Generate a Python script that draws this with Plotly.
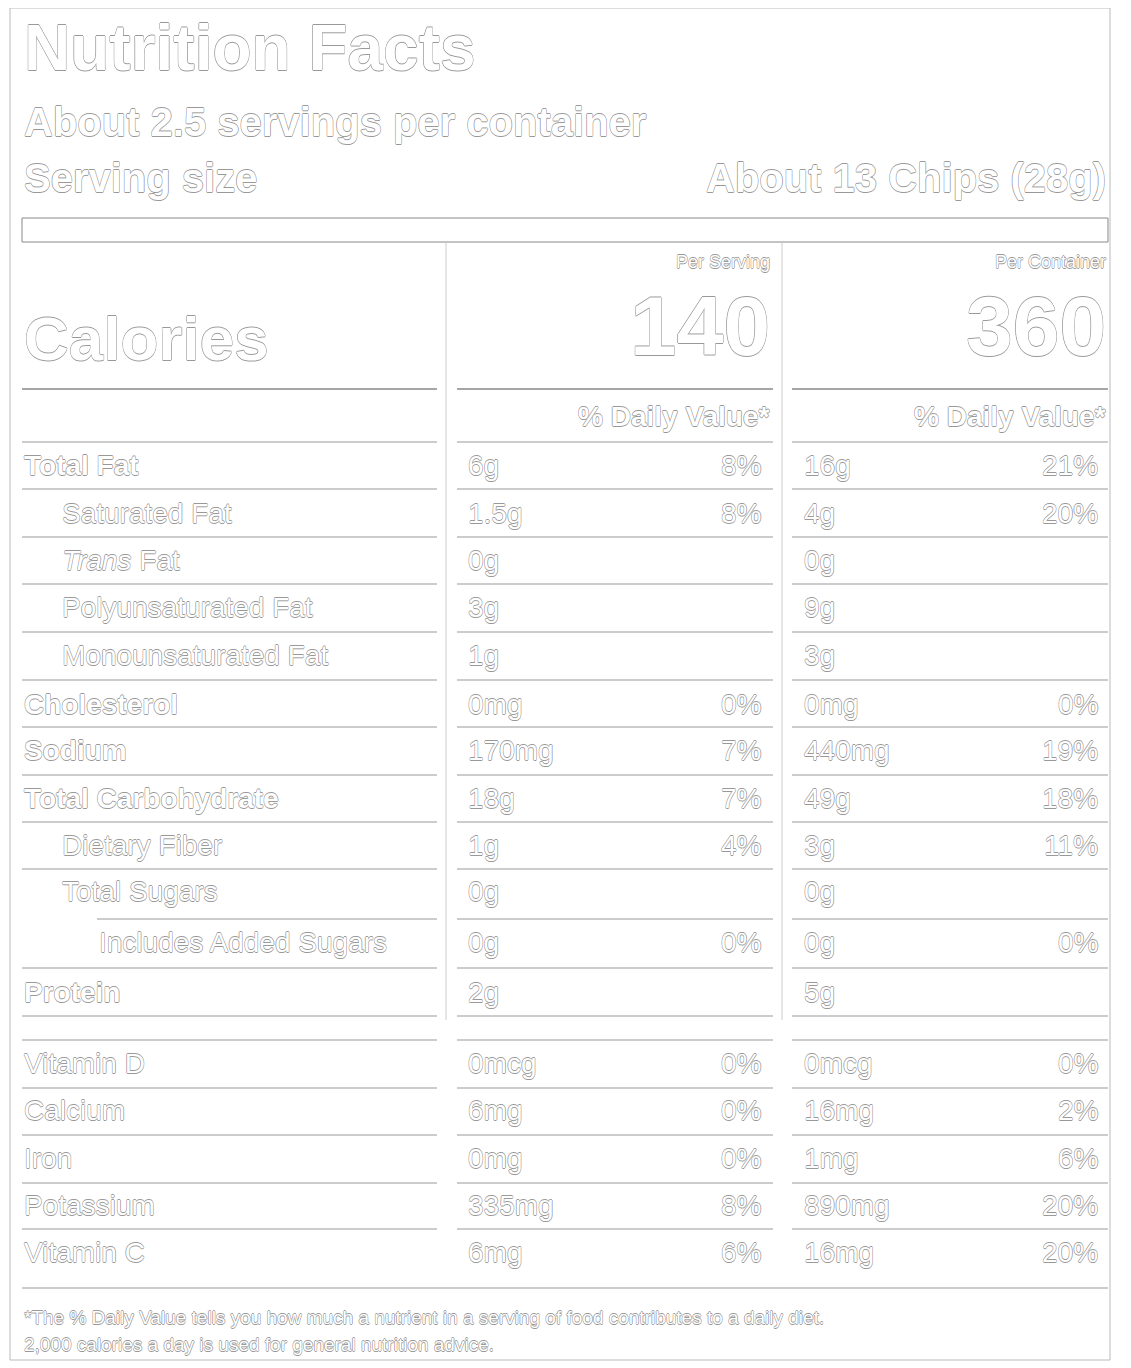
import plotly.graph_objects as go

nutrients = ["Total Fat", "Saturated Fat", "<i>Trans</i> Fat", "Polyunsaturated Fat", "Monounsaturated Fat",
             "Cholesterol", "Sodium", "Total Carbohydrate", "Dietary Fiber", "Total Sugars",
             "Includes Added Sugars", "Protein",
             "Vitamin D", "Calcium", "Iron", "Potassium", "Vitamin C"]
indent = [0, 1, 1, 1, 1, 0, 0, 0, 1, 1, 2, 0, 0, 0, 0, 0, 0]
bold = [1, 0, 0, 0, 0, 1, 1, 1, 0, 0, 0, 1, 0, 0, 0, 0, 0]
serv_amt = ["6g", "1.5g", "0g", "3g", "1g", "0mg", "170mg", "18g", "1g", "0g", "0g", "2g",
            "0mcg", "6mg", "0mg", "335mg", "6mg"]
serv_dv = ["8%", "8%", "", "", "", "0%", "7%", "7%", "4%", "", "0%", "", "0%", "0%", "0%", "8%", "6%"]
cont_amt = ["16g", "4g", "0g", "9g", "3g", "0mg", "440mg", "49g", "3g", "0g", "0g", "5g",
            "0mcg", "16mg", "1mg", "890mg", "16mg"]
cont_dv = ["21%", "20%", "", "", "", "0%", "19%", "18%", "11%", "", "0%", "", "0%", "2%", "6%", "20%", "20%"]
row_y = [465, 513, 560, 607, 655, 704, 750, 798, 845, 891, 942, 992, 1063, 1110, 1158, 1205, 1252]

FONT = "Liberation Sans"
SH = "-0.6px 0 #999, 0.6px 0 #999, 0 0.6px #999, 0 -0.6px #999"
W = 1131; H = 1368
OFF = 8
ann = []
def t(x, y, s, size, anchor="left", b=False):
    ann.append(dict(x=x, y=y, text=("<b>%s</b>" % s) if b else s, showarrow=False,
                    xanchor=anchor, yanchor="middle", xref="x", yref="y",
                    font=dict(family=FONT, size=size, color="white", shadow=SH)))

shapes = []
def ln(x0, x1, y, w=1.2, c="#999"):
    shapes.append(dict(type="line", x0=x0, x1=x1, y0=y, y1=y, xref="x", yref="y", line=dict(color=c, width=w)))
def vl(x, y0, y1, c="#ccc"):
    shapes.append(dict(type="line", x0=x, x1=x, y0=y0, y1=y1, xref="x", yref="y", line=dict(color=c, width=1)))

shapes.append(dict(type="rect", x0=10, x1=1110, y0=8, y1=1360, line=dict(color="#bbb", width=1)))
shapes.append(dict(type="rect", x0=22, x1=1108, y0=218, y1=242, line=dict(color="#888", width=1)))
vl(446, 242, 1020); vl(782, 242, 1020)

t(22, 48, "Nutrition Facts", 64, b=True)
t(22, 122, "About 2.5 servings per container", 40, b=True)
t(22, 178, "Serving size", 40, b=True)
t(1108, 178, "About 13 Chips (28g)", 40, "right", b=True)
t(22, 338, "Calories", 62, b=True)
t(772, 262, "Per Serving", 18, "right")
t(1108, 262, "Per Container", 18, "right")
t(772, 326, "140", 84, "right", b=True)
t(1108, 326, "360", 84, "right", b=True)
for a, b2 in [(22, 437), (457, 773), (792, 1108)]:
    ln(a, b2, 389, 1.6, "#888")
t(772, 416, "% Daily Value*", 28, "right", b=True)
t(1108, 416, "% Daily Value*", 28, "right", b=True)

seps = [442, 489, 537, 584, 632, 680, 727, 775, 822, 869, 919, 968, 1016, 1040, 1088, 1135, 1183, 1229]
for i, y in enumerate(seps):
    lx = 97 if y == 919 else 22
    ln(lx, 437, y); ln(457, 773, y); ln(792, 1108, y)
ln(22, 1108, 1288, 1.2)

for i, n in enumerate(nutrients):
    y = row_y[i]
    x = [22, 60, 97][indent[i]]
    t(x, y, n, 28, b=bool(bold[i]))
    t(466, y, serv_amt[i], 28)
    t(763, y, serv_dv[i], 28, "right")
    t(802, y, cont_amt[i], 28)
    t(1100, y, cont_dv[i], 28, "right")

t(22, 1317, "*The % Daily Value tells you how much a nutrient in a serving of food contributes to a daily diet.", 19)
t(22, 1344, "2,000 calories a day is used for general nutrition advice.", 19)

fig = go.Figure()
fig.update_layout(width=W, height=H, margin=dict(l=0, r=0, t=0, b=0),
                  paper_bgcolor="white", plot_bgcolor="white",
                  xaxis=dict(range=[OFF, W + OFF], visible=False, fixedrange=True),
                  yaxis=dict(range=[H + OFF, OFF], visible=False, fixedrange=True),
                  annotations=ann, shapes=shapes, showlegend=False)
fig.write_html("out.html")
